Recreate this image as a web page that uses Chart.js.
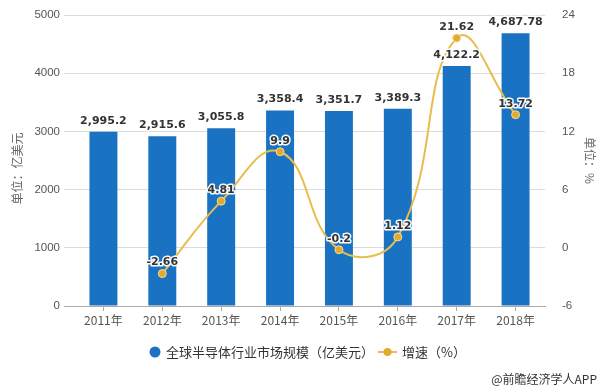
<!DOCTYPE html>
<html>
<head>
<meta charset="utf-8">
<script src="https://cdn.jsdelivr.net/npm/chart.js@4/dist/chart.umd.min.js"></script>
<style>
    html, body { margin: 0; padding: 0; background: #fff; }
    #wrap { width: 605px; height: 391px; }
</style>
</head>
<body>
<div id="wrap"><canvas id="chart" width="605" height="391"></canvas></div>
<script>
// Chart data
const years = ['2011年', '2012年', '2013年', '2014年', '2015年', '2016年', '2017年', '2018年'];
const marketSize = [2995.2, 2915.6, 3055.8, 3358.4, 3351.7, 3389.3, 4122.2, 4687.78];
const growthRate = [null, -2.66, 4.81, 9.9, -0.2, 1.12, 21.62, 13.72];
const sizeLabels = ['2,995.2', '2,915.6', '3,055.8', '3,358.4', '3,351.7', '3,389.3', '4,122.2', '4,687.78'];
const growthLabels = ['', '-2.66', '4.81', '9.9', '-0.2', '1.12', '21.62', '13.72'];

const BAR_COLOR = '#1a73c2';
const LINE_COLOR = '#e8bd4c';
const POINT_COLOR = '#e2ab30';
const CJK = '"Noto Sans CJK SC", "Noto Sans", sans-serif';

// Draws value labels, axis titles, legend and source line
const decorPlugin = {
    id: 'decor',
    afterDatasetsDraw(chart) {
        const ctx = chart.ctx;
        ctx.save();
        ctx.font = 'bold 11px "DejaVu Sans", sans-serif';
        ctx.textAlign = 'center';
        ctx.textBaseline = 'middle';
        ctx.lineJoin = 'round';

        const drawLabel = (text, x, y) => {
            ctx.strokeStyle = 'rgba(255,255,255,0.95)';
            ctx.lineWidth = 3;
            ctx.strokeText(text, x, y);
            ctx.fillStyle = '#333';
            ctx.fillText(text, x, y);
        };

        chart.getDatasetMeta(0).data.forEach((bar, i) => {
            drawLabel(sizeLabels[i], bar.x, bar.y - 11);
        });
        chart.getDatasetMeta(1).data.forEach((pt, i) => {
            if (growthRate[i] === null) return;
            drawLabel(growthLabels[i], pt.x, pt.y - 11);
        });
        ctx.restore();
    },
    afterDraw(chart) {
        const ctx = chart.ctx;
        const area = chart.chartArea;
        const midY = (area.top + area.bottom) / 2;
        ctx.save();

        // axis titles
        ctx.fillStyle = '#666';
        ctx.font = '12px ' + CJK;
        ctx.textAlign = 'center';
        ctx.textBaseline = 'middle';
        ctx.save();
        ctx.translate(17, midY + 8);
        ctx.rotate(-Math.PI / 2);
        ctx.fillText('单位：亿美元', 0, 0);
        ctx.restore();
        ctx.save();
        ctx.translate(590, midY);
        ctx.rotate(Math.PI / 2);
        ctx.fillText('单位：%', 0, 0);
        ctx.restore();

        // legend
        const ly = 352;
        ctx.fillStyle = BAR_COLOR;
        ctx.beginPath();
        ctx.arc(155, ly, 5.5, 0, Math.PI * 2);
        ctx.fill();
        ctx.fillStyle = '#333';
        ctx.font = '13px ' + CJK;
        ctx.textAlign = 'left';
        ctx.fillText('全球半导体行业市场规模（亿美元）', 166, ly);

        ctx.strokeStyle = LINE_COLOR;
        ctx.lineWidth = 2;
        ctx.beginPath();
        ctx.moveTo(378, ly);
        ctx.lineTo(397, ly);
        ctx.stroke();
        ctx.fillStyle = POINT_COLOR;
        ctx.beginPath();
        ctx.arc(387.5, ly, 4, 0, Math.PI * 2);
        ctx.fill();
        ctx.fillStyle = '#333';
        ctx.fillText('增速（%）', 402, ly);

        // source
        ctx.font = '12px ' + CJK;
        ctx.textAlign = 'right';
        ctx.fillText('@前瞻经济学人APP', 597, 379);
        ctx.restore();
    }
};

const config = {
    data: {
        labels: years,
        datasets: [
            {
                type: 'bar',
                label: '全球半导体行业市场规模（亿美元）',
                data: marketSize,
                backgroundColor: BAR_COLOR,
                categoryPercentage: 1,
                barPercentage: 0.475,
                yAxisID: 'y',
                order: 1
            },
            {
                type: 'line',
                label: '增速（%）',
                data: growthRate,
                borderColor: LINE_COLOR,
                borderWidth: 2,
                tension: 0.45,
                pointRadius: 4,
                pointBackgroundColor: POINT_COLOR,
                pointBorderColor: '#f3dca0',
                pointBorderWidth: 1,
                yAxisID: 'y1',
                order: 0
            }
        ]
    },
    options: {
        responsive: false,
        animation: false,
        layout: { padding: { top: 15, bottom: 55, left: 0, right: 0 } },
        plugins: {
            legend: { display: false },
            tooltip: { enabled: false }
        },
        scales: {
            x: {
                grid: {
                    offset: false,
                    drawOnChartArea: false,
                    tickLength: 5,
                    color: '#aaa'
                },
                border: { color: '#aaa' },
                ticks: {
                    color: '#555',
                    font: { size: 12, family: CJK },
                    padding: 2
                },
                afterFit: (scale) => { scale.height = 30; }
            },
            y: {
                position: 'left',
                min: 0,
                max: 5000,
                grid: {
                    color: (c) => c.tick && c.tick.value === 0 ? '#aaa' : '#dcdcdc',
                    tickLength: 10
                },
                border: { display: false },
                ticks: {
                    stepSize: 1000,
                    color: '#555',
                    font: { size: 11.5, family: '"Liberation Sans", sans-serif' },
                    padding: 4,
                    callback: (v) => String(v)
                },
                afterFit: (scale) => { scale.width = 74; }
            },
            y1: {
                position: 'right',
                min: -6,
                max: 24,
                // invisible tick marks push the labels away from the plot
                grid: { drawOnChartArea: false, tickLength: 15, color: 'rgba(0,0,0,0)' },
                border: { display: false },
                ticks: {
                    stepSize: 6,
                    color: '#555',
                    font: { size: 11.5, family: '"Liberation Sans", sans-serif' },
                    padding: 2,
                    callback: (v) => String(v)
                },
                afterFit: (scale) => { scale.width = 60; }
            }
        }
    },
    plugins: [decorPlugin]
};

new Chart(document.getElementById('chart').getContext('2d'), config);
</script>
</body>
</html>
